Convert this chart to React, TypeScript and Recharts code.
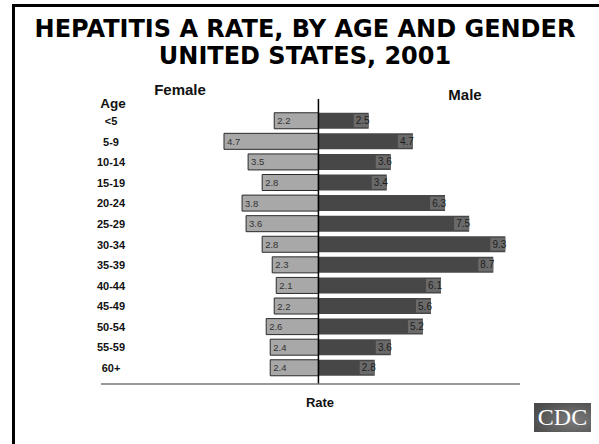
import React from 'react';
import { BarChart, Bar, XAxis, YAxis, ReferenceLine, LabelList } from 'recharts';

// Hepatitis A rate per 100,000 by age group, United States, 2001
const ageGroups = ['<5', '5-9', '10-14', '15-19', '20-24', '25-29', '30-34', '35-39', '40-44', '45-49', '50-54', '55-59', '60+'];
const femaleRates = [2.2, 4.7, 3.5, 2.8, 3.8, 3.6, 2.8, 2.3, 2.1, 2.2, 2.6, 2.4, 2.4];
const maleRates = [2.5, 4.7, 3.6, 3.4, 6.3, 7.5, 9.3, 8.7, 6.1, 5.6, 5.2, 3.6, 2.8];

const titleLines = ['HEPATITIS A RATE, BY AGE AND GENDER', 'UNITED STATES, 2001'];

// female values go left of zero, male values right
const rows = ageGroups.map((age, i) => ({
  age,
  female: -femaleRates[i],
  male: maleRates[i],
  femaleLabel: femaleRates[i],
  maleLabel: maleRates[i],
}));

const W = 599;
const H = 444;
const LABEL_FONT = '"Liberation Sans", Arial, sans-serif';

const AgeTick = (props: any) => {
  const { x, y, payload } = props;
  return (
    <text x={x + 18} y={y + 4} textAnchor="middle" fontFamily={LABEL_FONT} fontWeight="bold" fontSize={11} fill="#111">
      {payload.value}
    </text>
  );
};

const FemaleLabel = (props: any) => {
  const { x, y, width, height, value } = props;
  const left = Math.min(x, x + width);
  return (
    <text x={left + 3} y={y + height / 2 + 3.5} fontFamily={LABEL_FONT} fontSize={9.5} fill="#333">
      {value.toFixed(1)}
    </text>
  );
};

const MaleLabel = (props: any) => {
  const { x, y, width, height, value } = props;
  const right = Math.max(x, x + width);
  const boxH = 13;
  return (
    <g>
      <rect x={right - 15} y={y + (height - boxH) / 2} width={15} height={boxH} fill="#6a6a6a" />
      <text x={right + 1} y={y + height / 2 + 3.5} textAnchor="end" fontFamily={LABEL_FONT} fontSize={10} fill="#1e1e1e">
        {value.toFixed(1)}
      </text>
    </g>
  );
};

export default function App() {
  return (
    <div style={{ position: 'absolute', left: 0, top: 0, width: W, height: H, background: '#fff', overflow: 'hidden' }}>
      <BarChart
        width={W}
        height={H}
        data={rows}
        layout="vertical"
        stackOffset="sign"
        barCategoryGap="10%"
        margin={{ top: 99, right: 79, bottom: 40, left: 71 }}
      >
        <XAxis
          type="number"
          domain={[-10.82, 10.03]}
          height={20}
          tick={false}
          tickLine={false}
          axisLine={{ stroke: '#777', strokeWidth: 1.5 }}
        />
        <YAxis
          type="category"
          dataKey="age"
          width={30}
          axisLine={false}
          tickLine={false}
          interval={0}
          padding={{ top: 11.7, bottom: 5.7 }}
          tick={<AgeTick />}
        />
        <Bar dataKey="female" stackId="g" fill="#a8a8a8" stroke="#2a2a2a" strokeWidth={1} isAnimationActive={false}>
          <LabelList dataKey="femaleLabel" content={<FemaleLabel />} />
        </Bar>
        <Bar dataKey="male" stackId="g" fill="#474747" isAnimationActive={false}>
          <LabelList dataKey="maleLabel" content={<MaleLabel />} />
        </Bar>
        <ReferenceLine x={0} stroke="#000" strokeWidth={1.5} />
      </BarChart>

      <svg width={W} height={H} style={{ position: 'absolute', left: 0, top: 0, pointerEvents: 'none' }}>
        {/* slide frame */}
        <rect x={12} y={4} width={3} height={H - 4} fill="#000" />
        <rect x={12} y={4} width={W - 12} height={3} fill="#000" />

        <text x={305} y={37} textAnchor="middle" fontFamily='"DejaVu Sans", sans-serif' fontWeight="bold" fontSize={24} fill="#000">
          {titleLines[0]}
        </text>
        <text x={305} y={64} textAnchor="middle" fontFamily='"DejaVu Sans", sans-serif' fontWeight="bold" fontSize={24} fill="#000">
          {titleLines[1]}
        </text>

        <text x={180} y={95} textAnchor="middle" fontFamily={LABEL_FONT} fontWeight="bold" fontSize={15} fill="#111">Female</text>
        <text x={465} y={100} textAnchor="middle" fontFamily={LABEL_FONT} fontWeight="bold" fontSize={15} fill="#111">Male</text>
        <text x={113} y={108} textAnchor="middle" fontFamily={LABEL_FONT} fontWeight="bold" fontSize={13.5} fill="#111">Age</text>
        <text x={320} y={407} textAnchor="middle" fontFamily={LABEL_FONT} fontWeight="bold" fontSize={13} fill="#111">Rate</text>

        {/* CDC logo */}
        <defs>
          <radialGradient id="cdcGlow" cx="0.7" cy="0.6" r="0.8">
            <stop offset="0" stopColor="#7a7a7a" />
            <stop offset="1" stopColor="#4a4a4a" />
          </radialGradient>
        </defs>
        <rect x={534} y={403} width={57} height={29} fill="url(#cdcGlow)" />
        <text x={562.5} y={425} textAnchor="middle" fontFamily='"Liberation Serif", "DejaVu Serif", serif' fontSize={24} fill="#fff">CDC</text>
      </svg>
    </div>
  );
}
